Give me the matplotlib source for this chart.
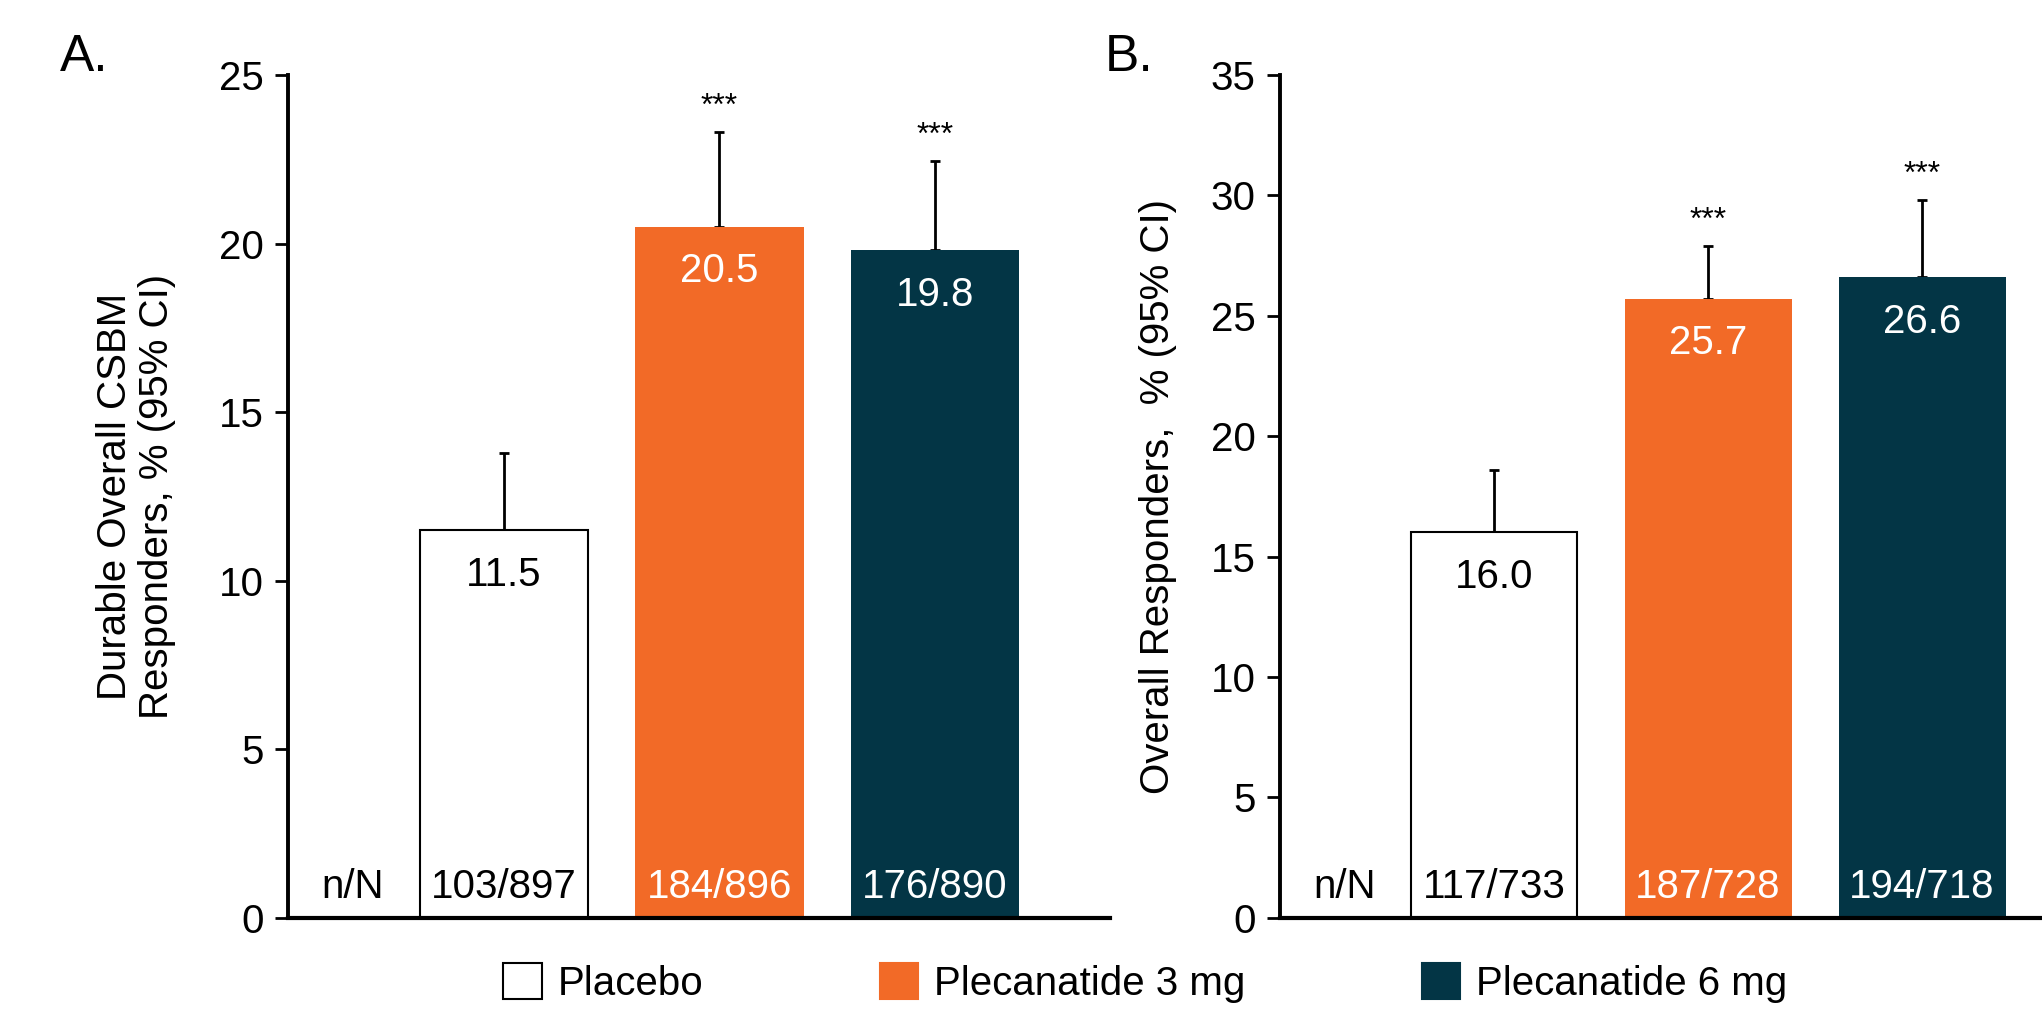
import matplotlib
matplotlib.use("Agg")
import matplotlib.pyplot as plt
from matplotlib.patches import Patch
from matplotlib import transforms

plt.rcParams["font.family"] = ["Liberation Sans", "DejaVu Sans"]

# --- data ---
groups = ["Placebo", "Plecanatide 3 mg", "Plecanatide 6 mg"]
colors = ["white", "#F26A27", "#033545"]
text_colors = ["black", "white", "white"]

a_vals = [11.5, 20.5, 19.8]
a_upper = [13.8, 23.3, 22.45]        # upper 95% CI
a_counts = ["103/897", "184/896", "176/890"]
a_stars = ["", "***", "***"]

b_vals = [16.0, 25.7, 26.6]
b_upper = [18.6, 27.9, 29.8]
b_counts = ["117/733", "187/728", "194/718"]
b_stars = ["", "***", "***"]

FS = 29  # base font size (pt)


def panel(ax, vals, upper, counts, stars, ymax, xmax, ylabel, letter, letter_x):
    x = [1, 2, 3]
    ax.bar(x, vals, width=0.78, color=colors, edgecolor=["black", "none", "none"],
           linewidth=1.5, zorder=2)
    err = [[0] * 3, [u - v for u, v in zip(upper, vals)]]
    ax.errorbar(x, vals, yerr=err, fmt="none", ecolor="black", elinewidth=2,
                capsize=3.5, capthick=2, zorder=1)

    trans = transforms.blended_transform_factory(ax.transData, ax.transAxes)
    for xi, v, u, c, s, tc in zip(x, vals, upper, counts, stars, text_colors):
        # value inside top of bar
        ax.annotate(f"{v:.1f}", (xi, v), xytext=(0, -32), textcoords="offset points",
                    ha="center", va="center", fontsize=FS, color=tc, zorder=3)
        # significance above CI
        if s:
            ax.annotate(s, (xi, u), xytext=(0, 18), textcoords="offset points",
                        ha="center", va="center", fontsize=23, color="black")
        # n/N at the base
        ax.text(xi, 0.037, c, transform=trans, ha="center", va="center",
                fontsize=FS, color=tc, zorder=3)
    ax.text(0.3, 0.037, "n/N", transform=trans, ha="center", va="center", fontsize=FS)

    ax.set_xlim(0, xmax)
    ax.set_ylim(0, ymax)
    ax.set_yticks(range(0, ymax + 1, 5))
    ax.set_xticks([])
    ax.spines["top"].set_visible(False)
    ax.spines["right"].set_visible(False)
    ax.spines["left"].set_linewidth(2.8)
    ax.spines["bottom"].set_linewidth(3)
    ax.tick_params(axis="y", direction="out", length=9.5, width=2, pad=8, labelsize=FS)
    ax.set_ylabel(ylabel, fontsize=FS, linespacing=1.15)
    ax.text(letter_x, 1.005, letter, transform=ax.transAxes,
            fontsize=37, ha="left", va="baseline")


fig = plt.figure(figsize=(20.42, 10.13), dpi=100)
ax_a = fig.add_axes([0.141, 0.094, 0.4025, 0.832])
ax_b = fig.add_axes([0.6268, 0.094, 0.3732, 0.832])

panel(ax_a, a_vals, a_upper, a_counts, a_stars, 25, 3.81,
      "Durable Overall CSBM\nResponders, % (95% CI)", "A.", -0.277)
panel(ax_b, b_vals, b_upper, b_counts, b_stars, 35, 3.56,
      "Overall Responders,  % (95% CI)", "B.", -0.23)
ax_a.yaxis.set_label_coords(-0.136, 0.5)
ax_b.yaxis.set_label_coords(-0.135, 0.5)

handles = [Patch(facecolor=c, edgecolor="black" if c == "white" else c, linewidth=1.5)
           for c in colors]
fig.legend(handles, groups, loc="center", bbox_to_anchor=(0.561, 0.030), ncol=3,
           frameon=False, fontsize=FS, handlelength=0.95, handleheight=1.0,
           handletextpad=0.4, columnspacing=4.38)

fig.savefig("out.png", dpi=100)
